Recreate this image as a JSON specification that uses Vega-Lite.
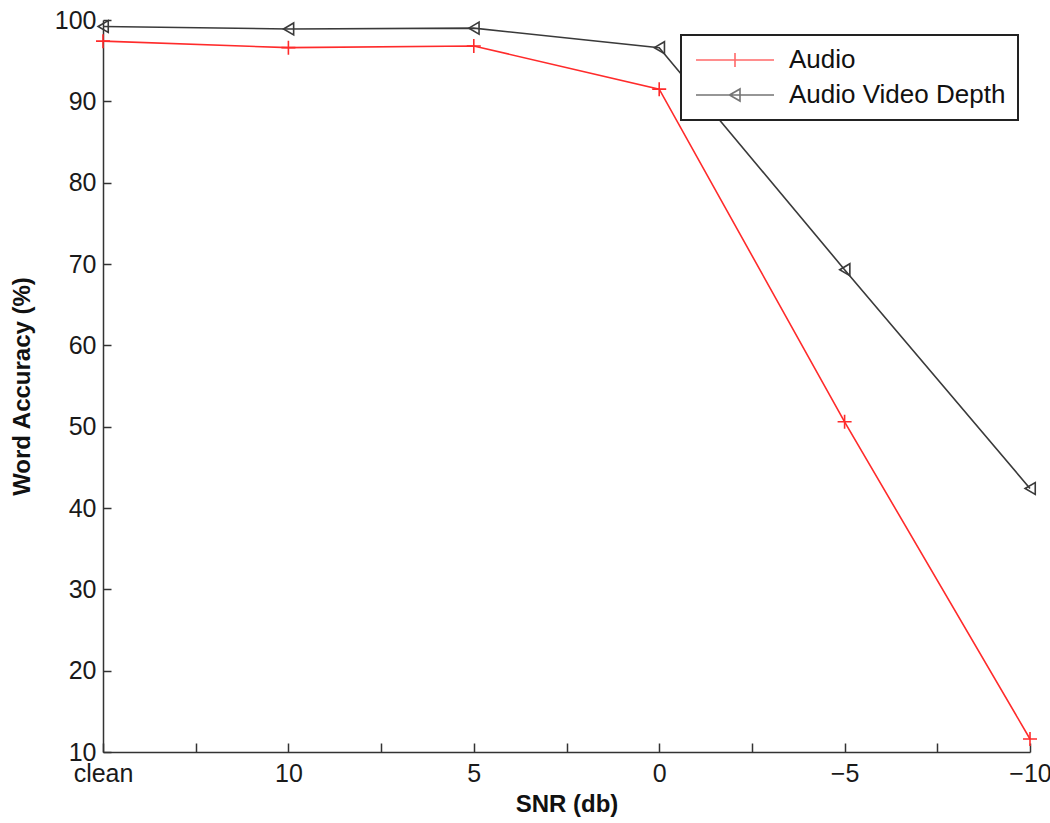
{
  "$schema": "https://vega.github.io/schema/vega-lite/v6.json",
  "width": 927,
  "height": 732,
  "autosize": {"type": "none"},
  "padding": {"left": 103, "top": 20, "right": 20, "bottom": 71},
  "background": "white",
  "config": {
    "view": {"stroke": null},
    "font": "Liberation Sans",
    "axis": {"grid": false, "domainColor": "#333333", "domainWidth": 1.5, "tickColor": "#333333", "tickWidth": 1.5, "labelColor": "#1a1a1a", "labelFont": "Liberation Sans", "labelFontSize": 25, "titleFont": "Liberation Sans", "titleFontSize": 24, "titleFontWeight": "bold", "titleColor": "#111111"},
    "legend": {"labelFont": "Liberation Sans", "labelFontSize": 26, "labelColor": "#111111", "labelLimit": 500, "strokeColor": "#222222", "strokeWidth": 2, "fillColor": "white", "padding": 12}
  },
  "data": {
    "values": [
      {"snr": "clean", "idx": 0, "series": "Audio", "acc": 97.4},
      {"snr": "10", "idx": 1, "series": "Audio", "acc": 96.6},
      {"snr": "5", "idx": 2, "series": "Audio", "acc": 96.8},
      {"snr": "0", "idx": 3, "series": "Audio", "acc": 91.5},
      {"snr": "-5", "idx": 4, "series": "Audio", "acc": 50.6},
      {"snr": "-10", "idx": 5, "series": "Audio", "acc": 11.6},
      {"snr": "clean", "idx": 0, "series": "Audio Video Depth", "acc": 99.2},
      {"snr": "10", "idx": 1, "series": "Audio Video Depth", "acc": 98.9},
      {"snr": "5", "idx": 2, "series": "Audio Video Depth", "acc": 99.0},
      {"snr": "0", "idx": 3, "series": "Audio Video Depth", "acc": 96.6},
      {"snr": "-5", "idx": 4, "series": "Audio Video Depth", "acc": 69.3},
      {"snr": "-10", "idx": 5, "series": "Audio Video Depth", "acc": 42.4}
    ]
  },
  "encoding": {
    "x": {
      "field": "idx", "type": "quantitative",
      "scale": {"domain": [0, 5], "nice": false, "zero": false},
      "axis": {
        "title": "SNR (db)",
        "values": [0, 0.5, 1, 1.5, 2, 2.5, 3, 3.5, 4, 4.5, 5],
        "labelExpr": "datum.value==0?'clean':datum.value==1?'10':datum.value==2?'5':datum.value==3?'0':datum.value==4?'\u22125':datum.value==5?'\u221210':''",
        "tickSize": -9,
        "labelPadding": 18,
        "labelOverlap": false,
        "labelFlush": false,
        "titlePadding": 6
      }
    },
    "y": {
      "field": "acc", "type": "quantitative",
      "scale": {"domain": [10, 100], "nice": false, "zero": false},
      "axis": {
        "title": "Word Accuracy (%)",
        "values": [10, 20, 30, 40, 50, 60, 70, 80, 90, 100],
        "tickSize": -8,
        "labelPadding": 15,
        "labelOverlap": false,
        "labelFlush": false,
        "titlePadding": 20
      }
    }
  },
  "layer": [
    {
      "mark": {"type": "line", "strokeWidth": 1.6},
      "encoding": {
        "color": {"field": "series", "type": "nominal", "scale": {"domain": ["Audio", "Audio Video Depth"], "range": ["#ff2b2b", "#3a3a3a"]}, "legend": null}
      }
    },
    {
      "mark": {"type": "point", "filled": false, "strokeWidth": 1.6, "size": 196, "opacity": 1},
      "encoding": {
        "color": {"field": "series", "type": "nominal", "scale": {"domain": ["Audio", "Audio Video Depth"], "range": ["#ff2b2b", "#3a3a3a"]}, "legend": null},
        "shape": {"field": "series", "type": "nominal", "scale": {"domain": ["Audio", "Audio Video Depth"], "range": ["M-1,0H1M0,-1V1", "M-0.7,0L0.75,-0.85L0.75,0.85Z"]}, "legend": null}
      }
    },
    {
      "transform": [{"filter": "false"}],
      "mark": {"type": "point", "filled": false, "strokeWidth": 1.6},
      "encoding": {
        "color": {"field": "series", "type": "nominal", "scale": {"domain": ["Audio", "Audio Video Depth"], "range": ["#ff2b2b", "#3a3a3a"]},
          "legend": {"title": null, "orient": "none", "legendX": 578, "legendY": 15, "symbolSize": 400, "symbolStrokeWidth": 1.6, "rowPadding": 9, "labelOffset": 70}},
        "shape": {"field": "series", "type": "nominal", "scale": {"domain": ["Audio", "Audio Video Depth"], "range": ["M-1,0H6.8M2.9,-0.7V0.7", "M-1,0H6.8M2.35,0L3.4,-0.6L3.4,0.6Z"]},
          "legend": {"title": null, "orient": "none", "legendX": 578, "legendY": 15, "symbolSize": 400, "symbolStrokeWidth": 1.6, "rowPadding": 9, "labelOffset": 70}}
      }
    }
  ],
  "resolve": {"scale": {"color": "independent", "shape": "independent"}}
}
